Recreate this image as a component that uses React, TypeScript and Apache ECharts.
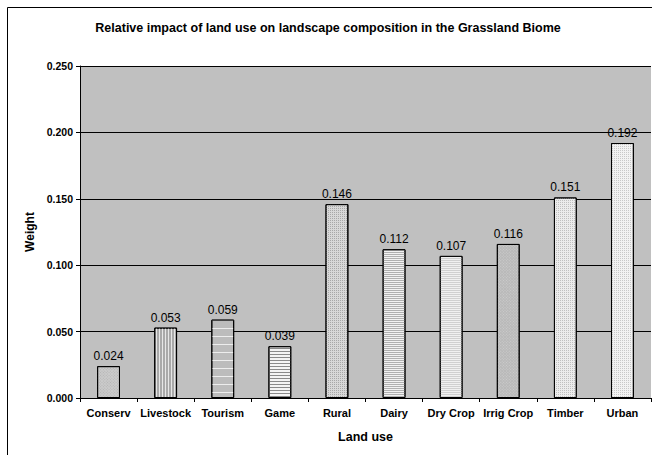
import React, { useEffect, useRef } from "react";
import * as echarts from "echarts";

const categories = ["Conserv", "Livestock", "Tourism", "Game", "Rural", "Dairy", "Dry Crop", "Irrig Crop", "Timber", "Urban"];
const weights = [0.024, 0.053, 0.059, 0.039, 0.146, 0.112, 0.107, 0.116, 0.151, 0.192];

const FONT = "Liberation Sans, Arial, sans-serif";

type Decal = { bg: string; fg: string; dx: number[]; dy: number[]; rot?: number };
const decals: Decal[] = [
  { bg: "#cbcbcb", fg: "#b4b4b4", dx: [1, 1], dy: [1, 1], rot: 0.785 },
  { bg: "#a9a9a9", fg: "#e6e6e6", dx: [1, 2], dy: [1, 0] },
  { bg: "#bcbcbc", fg: "#ededed", dx: [1, 0], dy: [1, 7] },
  { bg: "#f4f4f4", fg: "#8a8a8a", dx: [1, 0], dy: [1, 2] },
  { bg: "#d8d8d8", fg: "#a8a8a8", dx: [1, 1], dy: [1, 1] },
  { bg: "#f2f2f2", fg: "#b0b0b0", dx: [1, 0], dy: [1, 1] },
  { bg: "#f0f0f0", fg: "#d0d0d0", dx: [1, 0], dy: [1, 1] },
  { bg: "#b9b9b9", fg: "#cdcdcd", dx: [1, 1], dy: [1, 1], rot: 0.785 },
  { bg: "#ececec", fg: "#c0c0c0", dx: [1, 1], dy: [1, 1] },
  { bg: "#f2f2f2", fg: "#c8c8c8", dx: [1, 1], dy: [1, 1] },
];

export default function App() {
  const ref = useRef<HTMLDivElement>(null);
  useEffect(() => {
    if (!ref.current) return;
    const chart = echarts.init(ref.current, null, { renderer: "svg" });
    chart.setOption({
      animation: false,
      backgroundColor: "#ffffff",
      title: {
        text: "Relative impact of land use on landscape composition in the Grassland Biome",
        left: 323,
        top: 16,
        textAlign: "center",
        textStyle: { fontFamily: FONT, fontSize: 12.5, fontWeight: "bold", color: "#000" },
      },
      graphic: [
        {
          type: "rect",
          shape: { x: 7.5, y: 7.5, width: 700, height: 500 },
          style: { fill: "none", stroke: "#000", lineWidth: 1 },
          silent: true,
          z: 100,
        },
      ],
      grid: {
        left: 80,
        top: 66,
        width: 571,
        height: 332,
        show: true,
        backgroundColor: "#c0c0c0",
        borderWidth: 0,
      },
      xAxis: {
        type: "category",
        data: categories,
        name: "Land use",
        nameLocation: "middle",
        nameGap: 32,
        nameTextStyle: { fontFamily: FONT, fontSize: 12.5, fontWeight: "bold", color: "#000" },
        axisLine: { lineStyle: { color: "#000", width: 1 } },
        axisTick: { show: true, alignWithLabel: false, length: 4, lineStyle: { color: "#000" } },
        axisLabel: { fontFamily: FONT, fontSize: 11, fontWeight: "bold", color: "#000", margin: 9, interval: 0 },
      },
      yAxis: {
        type: "value",
        min: 0,
        max: 0.25,
        interval: 0.05,
        name: "Weight",
        nameLocation: "middle",
        nameGap: 43,
        nameRotate: 90,
        nameTextStyle: { fontFamily: FONT, fontSize: 12, fontWeight: "bold", color: "#000" },
        axisLine: { show: true, lineStyle: { color: "#000", width: 1 } },
        axisTick: { show: true, length: 4, lineStyle: { color: "#000" } },
        axisLabel: {
          fontFamily: FONT,
          fontSize: 10.5,
          fontWeight: "bold",
          color: "#000",
          margin: 7,
          formatter: (v: number) => v.toFixed(3),
        },
        splitLine: { show: true, lineStyle: { color: "#000", width: 1 } },
      },
      series: [
        {
          type: "bar",
          barWidth: "40%",
          data: weights.map((v, i) => ({
            value: v,
            itemStyle: {
              color: decals[i].bg,
              borderColor: "#000",
              borderWidth: 1,
              decal: {
                symbol: "rect",
                symbolSize: 1,
                color: decals[i].fg,
                backgroundColor: decals[i].bg,
                dashArrayX: decals[i].dx,
                dashArrayY: decals[i].dy,
                rotation: decals[i].rot || 0,
              },
            },
          })),
          label: {
            show: true,
            position: "top",
            distance: 4,
            fontFamily: FONT,
            fontSize: 12,
            color: "#000",
            formatter: (p: any) => Number(p.value).toFixed(3),
          },
        },
      ],
    });
    return () => chart.dispose();
  }, []);
  return <div ref={ref} style={{ position: "fixed", left: 0, top: 0, width: 652, height: 455 }} />;
}
